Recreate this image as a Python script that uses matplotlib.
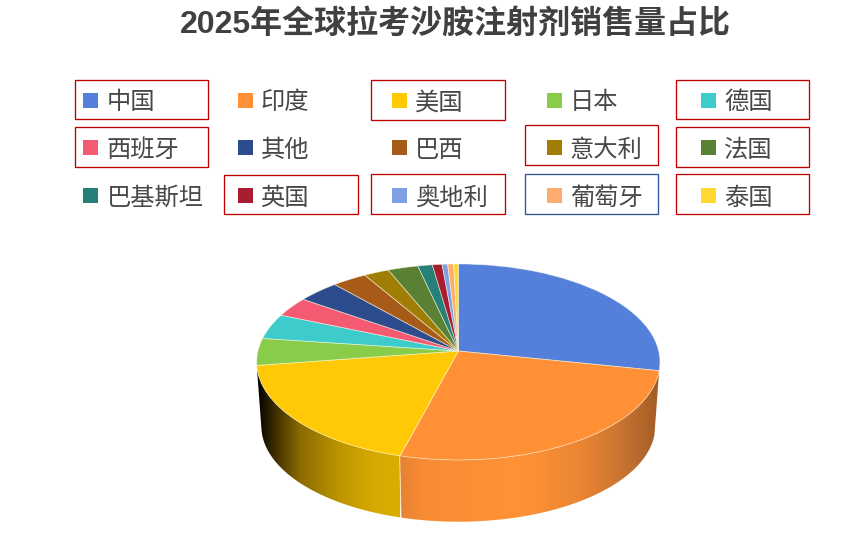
import numpy as np
import matplotlib
matplotlib.use("Agg")
import matplotlib.pyplot as plt
from matplotlib.transforms import Transform
from matplotlib.patches import Polygon, Rectangle
from matplotlib.colors import LinearSegmentedColormap

plt.rcParams['font.family'] = ['Noto Sans CJK SC', 'DejaVu Sans']

title = "2025年全球拉考沙胺注射剂销售量占比"
categories = ["中国", "印度", "美国", "日本", "德国",
              "西班牙", "其他", "巴西", "意大利", "法国",
              "巴基斯坦", "英国", "奥地利", "葡萄牙", "泰国"]
shares = [28.2, 26.0, 18.5, 4.45, 4.2, 3.3, 3.75, 3.1, 2.25, 2.7, 1.3, 0.86, 0.5, 0.53, 0.41]
colors = ["#547FDB", "#FF9035", "#FFC906", "#88CC4A", "#3ECBCB",
          "#F45B72", "#2C4C8E", "#A85A18", "#A07E06", "#5A8034",
          "#268078", "#A81E30", "#7FA0E4", "#FFAD6E", "#FFD932"]

W, H = 866, 557
fig = plt.figure(figsize=(W / 100, H / 100), dpi=100)
ax = fig.add_axes([0, 0, 1, 1])


class Persp(Transform):
    input_dims = output_dims = 2
    is_affine = False
    has_inverse = False

    def __init__(self, cx, cy, a, k, c):
        super().__init__()
        self.p = (cx, cy, a, k, c)

    def transform_non_affine(self, xy):
        cx, cy, a, k, c = self.p
        xy = np.asarray(xy, dtype=float)
        w = 1 + c * xy[:, 1]
        return np.column_stack((cx + a * xy[:, 0] / w, cy - k * xy[:, 1] / w))


top = Persp(458.3, 351, 200.4, 96.8, 0.112)
bot = Persp(458.3, 415.4, 195.7, 94.4, 0.112)

wedges, _ = ax.pie(shares, colors=colors, startangle=90, counterclock=False,
                   wedgeprops=dict(edgecolor=(1, 1, 0.92, 0.55), linewidth=0.6))
for w in wedges:
    w.set_transform(top + ax.transData)
    w.set_zorder(5)

# side wall: only the two front slices are visible
edges = np.cumsum([0] + shares)
wall_stops = {
    1: [(399, "#E58234"), (422, "#F88C35"), (520, "#FF9236"), (580, "#EC8633"),
        (622, "#C97430"), (660, "#A05C26")],
    2: [(257, "#000000"), (275, "#3E2E00"), (300, "#8A6A00"), (340, "#BE9600"),
        (375, "#D6AA00"), (400, "#DAAE00")],
}
for idx, stops in wall_stops.items():
    t = np.radians(90 - np.linspace(edges[idx], edges[idx + 1], 120) * 3.6)
    uv = np.column_stack((np.cos(t), np.sin(t)))
    upper = top.transform_non_affine(uv)
    lower = bot.transform_non_affine(uv)
    poly = Polygon(np.vstack((upper, lower[::-1])), closed=True, transform=ax.transData,
                   facecolor="none", edgecolor="none")
    ax.add_patch(poly)
    x0, x1 = stops[0][0], stops[-1][0]
    cmap = LinearSegmentedColormap.from_list(
        "w", [((x - x0) / (x1 - x0), col) for x, col in stops])
    im = ax.imshow(np.linspace(0, 1, 256)[None, :], cmap=cmap, aspect="auto",
                   extent=(x0, x1, 530, 360), zorder=2, interpolation="bilinear")
    im.set_clip_path(poly)

# seam between the two visible wall pieces
t = np.radians(90 - edges[2] * 3.6)
seam_uv = np.array([[np.cos(t), np.sin(t)]])
su, sl = top.transform_non_affine(seam_uv)[0], bot.transform_non_affine(seam_uv)[0]
ax.plot([su[0], sl[0]], [su[1], sl[1]], color=(1, 0.95, 0.75, 0.8), lw=0.7, zorder=3)

# legend grid
marker_x = [90.5, 245.5, 399.5, 554.5, 708.5]
row_y = [100, 147.5, 195.5]
text_x = [107, 260.5, 415, 570, 724]
for i, (name, col) in enumerate(zip(categories, colors)):
    r, c = divmod(i, 5)
    ax.add_patch(Rectangle((marker_x[c] - 7.5, row_y[r] - 7.5), 15, 15,
                           facecolor=col, edgecolor="none", zorder=6))
    ax.text(text_x[c], row_y[r] + 2.3, name, fontsize=17.5, color="#484848",
            ha="left", va="center", zorder=6)

# hand-drawn highlight boxes on the legend
box_names = ["中国", "美国", "德国", "西班牙", "意大利", "法国", "英国", "奥地利", "葡萄牙", "泰国"]
box_x = [75.3, 371.3, 676.3, 75.3, 525.3, 676.3, 224.3, 371.3, 525.3, 676.3]
box_y = [80.3, 80.3, 80.3, 127.3, 125.3, 127.3, 175.3, 174.3, 174.3, 174.3]
box_w = [133, 134, 133, 133, 133, 133, 134, 134, 133, 133]
box_h = [39, 40, 39, 40, 40, 40, 39, 40, 40, 40]
box_c = ["#C00000"] * 8 + ["#2F5597", "#C00000"]
for name, x, y, bw, bh, ec in zip(box_names, box_x, box_y, box_w, box_h, box_c):
    ax.add_patch(Rectangle((x, y), bw, bh, facecolor="none", edgecolor=ec,
                           linewidth=0.95, zorder=7))

ax.text(455, 24, title, fontsize=23, fontweight="bold", color="#404040",
        ha="center", va="center",
        family=["Liberation Sans", "Noto Sans CJK SC"], zorder=7)

ax.set_aspect("auto")
ax.set_xlim(0, W)
ax.set_ylim(H, 0)
ax.axis("off")
fig.savefig("out.png", dpi=100, facecolor="white")
